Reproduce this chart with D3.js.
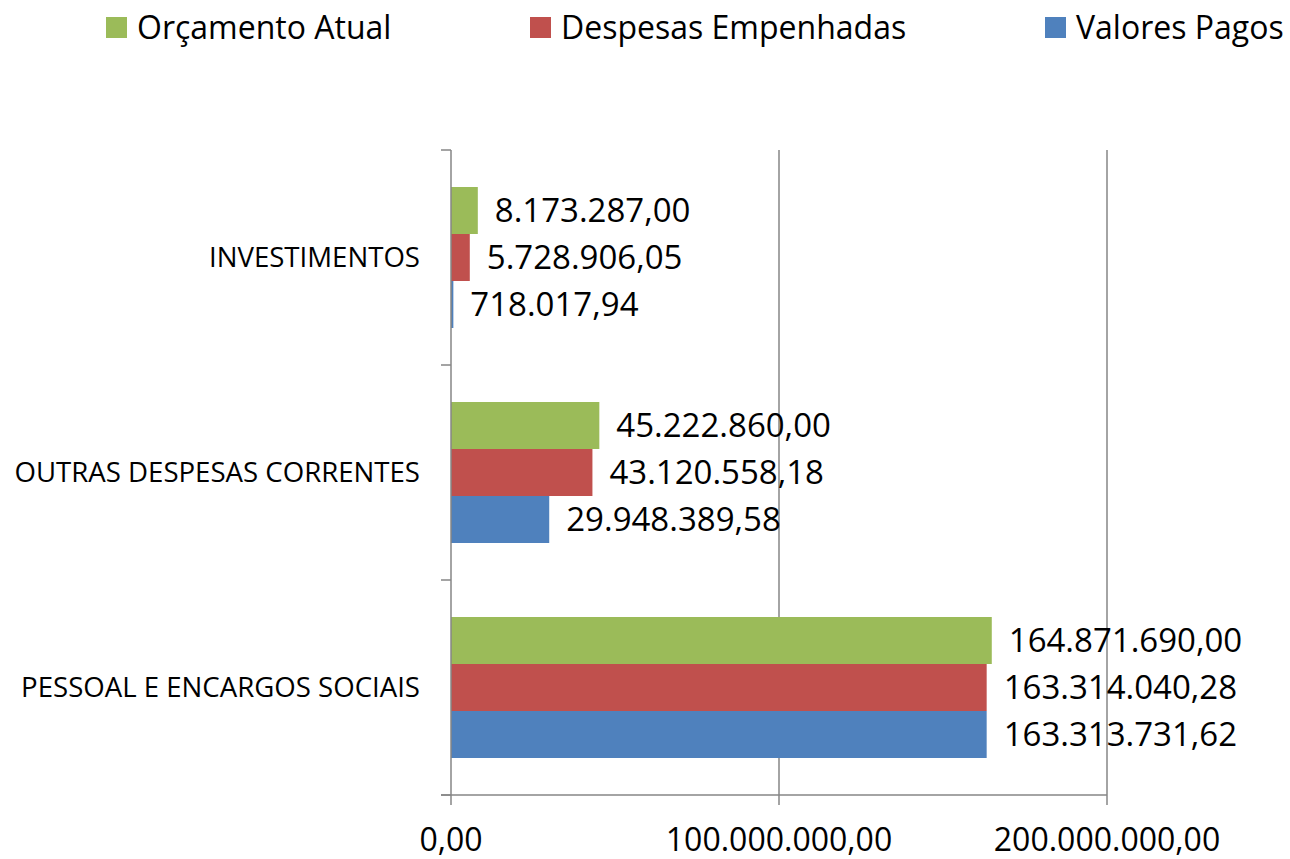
<html>
<head>
<meta charset="utf-8">
<style>
    body { margin: 0; background: white; }
    text { font-family: "Open Sans", sans-serif; fill: #000; }
</style>
</head>
<body>
    <svg id="container" width="1290" height="859">
        <g id="legend" />
        <g id="body" />
    </svg>
</body>
<script src="https://cdn.jsdelivr.net/npm/d3@7"></script>
<script>
    // data
    let categories = ["INVESTIMENTOS", "OUTRAS DESPESAS CORRENTES", "PESSOAL E ENCARGOS SOCIAIS"]
    let seriesNames = ["Orçamento Atual", "Despesas Empenhadas", "Valores Pagos"]
    let seriesColors = ["#9BBB59", "#C0504D", "#4F81BD"]
    let orcamento = [8173287.00, 45222860.00, 164871690.00]
    let empenhadas = [5728906.05, 43120558.18, 163314040.28]
    let pagos = [718017.94, 29948389.58, 163313731.62]
    let tickValues = [0, 100000000, 200000000]

    let allSeries = [orcamento, empenhadas, pagos]

    let body = d3.select("#body")
    let legend = d3.select("#legend")

    // 1.234.567,89 style
    let locale = d3.formatLocale({ decimal: ",", thousands: ".", grouping: [3], currency: ["R$", ""] })
    let fmt = locale.format(",.2f")

    let plotLeft = 451, plotRight = 1107, plotTop = 150, plotBottom = 795
    let axisColor = "#868686"

    let x = d3.scaleLinear().domain([0, 200000000]).range([plotLeft, plotRight])
    let y = d3.scaleBand().domain(categories).range([plotTop, plotBottom])
    let inner = d3.scaleBand().domain(seriesNames).range([37, y.bandwidth() - 37])

    // gridlines
    body.selectAll(".grid")
        .data(tickValues.slice(1))
        .enter().append("line")
        .attr("x1", d => x(d)).attr("x2", d => x(d))
        .attr("y1", plotTop).attr("y2", plotBottom)
        .attr("stroke", axisColor).attr("stroke-width", 1.5)

    // bars
    let groups = body.selectAll(".cat")
        .data(categories)
        .enter().append("g")
        .attr("transform", d => `translate(0, ${y(d)})`)

    groups.each(function (cat, ci) {
        let g = d3.select(this)
        let rows = seriesNames.map((s, si) => ({ s: s, v: allSeries[si][ci], color: seriesColors[si] }))
        g.selectAll("rect")
            .data(rows)
            .enter().append("rect")
            .attr("x", x(0))
            .attr("y", d => inner(d.s))
            .attr("width", d => Math.max(x(d.v) - x(0), 2))
            .attr("height", inner.bandwidth())
            .attr("fill", d => d.color)

        g.selectAll(".val")
            .data(rows)
            .enter().append("text")
            .attr("x", d => Math.max(x(d.v), x(0) + 2) + 17)
            .attr("y", d => inner(d.s) + inner.bandwidth() / 2)
            .attr("dy", "0.35em")
            .attr("font-size", 33)
            .text(d => fmt(d.v))
    })

    // category axis
    let yAxis = body.append("g")
    yAxis.append("line")
        .attr("x1", plotLeft).attr("x2", plotLeft).attr("y1", plotTop).attr("y2", plotBottom)
        .attr("stroke", axisColor).attr("stroke-width", 1.5)
    yAxis.selectAll(".tk")
        .data(categories.concat(["end"]))
        .enter().append("line")
        .attr("x1", plotLeft - 10).attr("x2", plotLeft)
        .attr("y1", (d, i) => plotTop + i * y.bandwidth())
        .attr("y2", (d, i) => plotTop + i * y.bandwidth())
        .attr("stroke", axisColor).attr("stroke-width", 1.5)
    yAxis.selectAll(".lbl")
        .data(categories)
        .enter().append("text")
        .attr("x", plotLeft - 31)
        .attr("y", d => y(d) + y.bandwidth() / 2)
        .attr("dy", "0.35em")
        .attr("text-anchor", "end")
        .attr("font-size", 27.6)
        .text(d => d)

    // value axis
    let xAxis = body.append("g")
    xAxis.append("line")
        .attr("x1", plotLeft - 10).attr("x2", plotRight).attr("y1", plotBottom).attr("y2", plotBottom)
        .attr("stroke", axisColor).attr("stroke-width", 1.5)
    xAxis.selectAll(".tk")
        .data(tickValues)
        .enter().append("line")
        .attr("x1", d => x(d)).attr("x2", d => x(d))
        .attr("y1", plotBottom).attr("y2", plotBottom + 10)
        .attr("stroke", axisColor).attr("stroke-width", 1.5)
    xAxis.selectAll(".lbl")
        .data(tickValues)
        .enter().append("text")
        .attr("x", d => x(d))
        .attr("y", 851)
        .attr("text-anchor", "middle")
        .attr("font-size", 32)
        .text(d => fmt(d))

    // legend
    let legendX = [106, 530, 1045]
    let items = legend.selectAll(".item")
        .data(seriesNames)
        .enter().append("g")
        .attr("transform", (d, i) => `translate(${legendX[i]}, 17)`)
    items.append("rect")
        .attr("width", 21).attr("height", 21)
        .attr("fill", (d, i) => seriesColors[i])
    items.append("text")
        .attr("x", 31)
        .attr("y", 22)
        .attr("font-size", 32)
        .text(d => d)
</script>
</html>
